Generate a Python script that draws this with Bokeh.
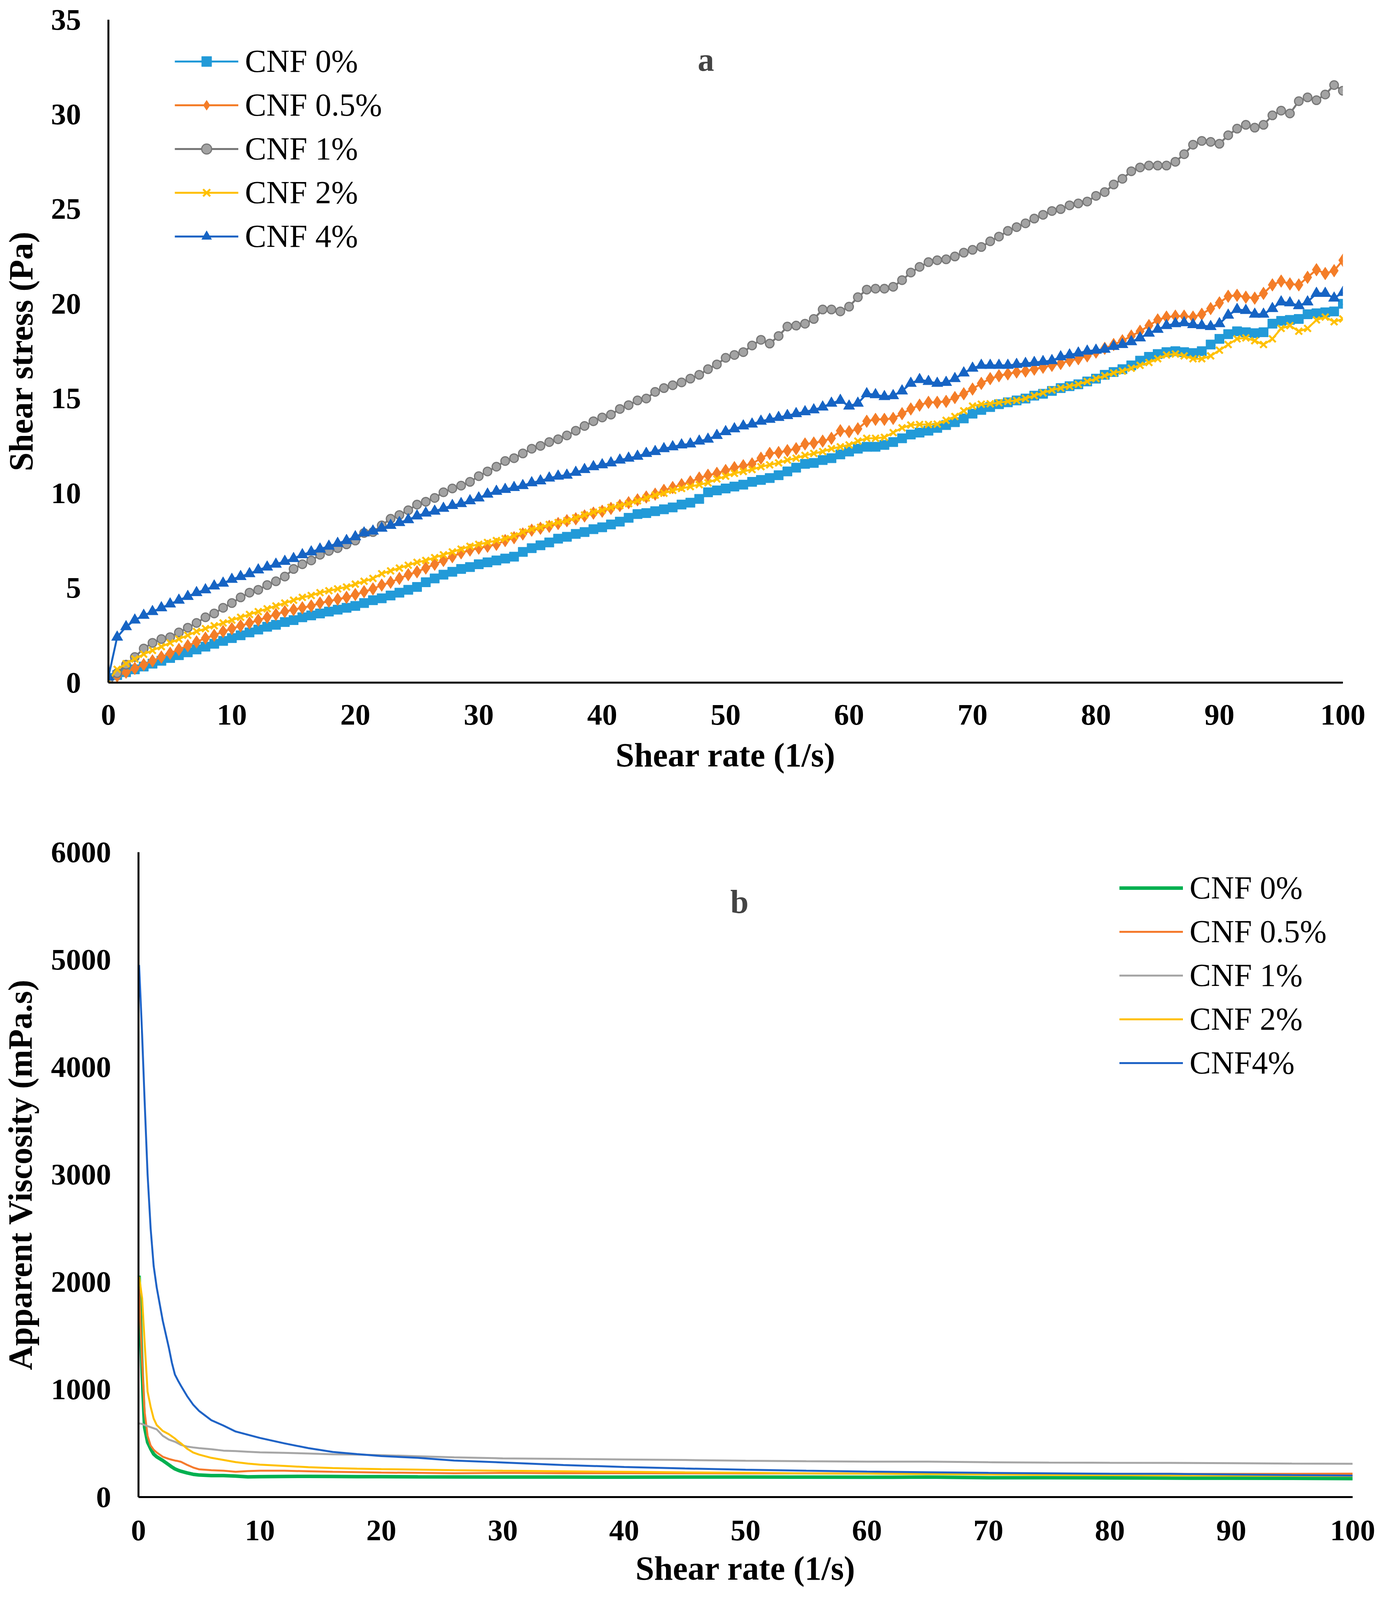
from bokeh.plotting import figure
from bokeh.models import Range1d, SingleIntervalTicker, Legend, LegendItem, Label
from bokeh.layouts import column
from bokeh.embed import file_html
from bokeh.resources import INLINE

FONT = "Liberation Serif"

# ---------------- (a) shear stress vs shear rate ----------------
shear_rate = [
    0, 0.71, 1.43, 2.14, 2.86, 3.57, 4.29,
    5, 5.71, 6.43, 7.14, 7.86, 8.57, 9.29,
    10, 10.71, 11.43, 12.14, 12.86, 13.57, 14.29,
    15, 15.71, 16.43, 17.14, 17.86, 18.57, 19.29,
    20, 20.71, 21.43, 22.14, 22.86, 23.57, 24.29,
    25, 25.71, 26.43, 27.14, 27.86, 28.57, 29.29,
    30, 30.71, 31.43, 32.14, 32.86, 33.57, 34.29,
    35, 35.71, 36.43, 37.14, 37.86, 38.57, 39.29,
    40, 40.71, 41.43, 42.14, 42.86, 43.57, 44.29,
    45, 45.71, 46.43, 47.14, 47.86, 48.57, 49.29,
    50, 50.71, 51.43, 52.14, 52.86, 53.57, 54.29,
    55, 55.71, 56.43, 57.14, 57.86, 58.57, 59.29,
    60, 60.71, 61.43, 62.14, 62.86, 63.57, 64.29,
    65, 65.71, 66.43, 67.14, 67.86, 68.57, 69.29,
    70, 70.71, 71.43, 72.14, 72.86, 73.57, 74.29,
    75, 75.71, 76.43, 77.14, 77.86, 78.57, 79.29,
    80, 80.71, 81.43, 82.14, 82.86, 83.57, 84.29,
    85, 85.71, 86.43, 87.14, 87.86, 88.57, 89.29,
    90, 90.71, 91.43, 92.14, 92.86, 93.57, 94.29,
    95, 95.71, 96.43, 97.14, 97.86, 98.57, 99.29,
    100,
]

stress_cnf0 = [
    0.25, 0.4, 0.55, 0.7, 0.85, 1.0, 1.15,
    1.3, 1.45, 1.6, 1.75, 1.9, 2.05, 2.2,
    2.35, 2.5, 2.65, 2.8, 2.95, 3.05, 3.2,
    3.3, 3.45, 3.55, 3.65, 3.75, 3.85, 3.95,
    4.05, 4.2, 4.35, 4.45, 4.6, 4.75, 4.9,
    5.05, 5.3, 5.5, 5.7, 5.85, 6.0, 6.1,
    6.25, 6.35, 6.45, 6.55, 6.65, 6.9, 7.1,
    7.25, 7.4, 7.6, 7.7, 7.85, 7.95, 8.1,
    8.2, 8.35, 8.5, 8.7, 8.9, 8.95, 9.05,
    9.15, 9.25, 9.4, 9.5, 9.7, 10.05, 10.15,
    10.25, 10.35, 10.45, 10.6, 10.7, 10.8, 10.95,
    11.15, 11.35, 11.55, 11.6, 11.75, 11.85, 12.05,
    12.2, 12.35, 12.45, 12.45, 12.55, 12.7, 12.9,
    13.1, 13.2, 13.3, 13.45, 13.6, 13.75, 13.95,
    14.2, 14.4, 14.55, 14.7, 14.8, 14.9, 15.0,
    15.15, 15.25, 15.4, 15.55, 15.65, 15.75, 15.9,
    16.05, 16.25, 16.4, 16.55, 16.75, 17.0, 17.2,
    17.35, 17.45, 17.5, 17.45, 17.4, 17.5, 17.85,
    18.15, 18.4, 18.55, 18.5, 18.45, 18.5, 18.95,
    19.1, 19.15, 19.2, 19.45, 19.5, 19.55, 19.6,
    20.0,
]

stress_cnf05 = [
    0.15, 0.35, 0.55, 0.75, 0.95, 1.15, 1.35,
    1.55, 1.75, 1.95, 2.15, 2.35, 2.5, 2.7,
    2.85, 3.0, 3.15, 3.3, 3.45, 3.6, 3.75,
    3.85, 3.95, 4.05, 4.2, 4.3, 4.4, 4.5,
    4.65, 4.8, 4.95, 5.15, 5.3, 5.5, 5.7,
    5.85, 6.05, 6.25, 6.45, 6.65, 6.85, 7.0,
    7.1, 7.2, 7.3, 7.5, 7.65, 7.85, 8.05,
    8.15, 8.25, 8.4, 8.55, 8.65, 8.8, 8.95,
    9.05, 9.2, 9.35, 9.5, 9.65, 9.8, 9.95,
    10.15, 10.3, 10.45, 10.6, 10.8, 10.95, 11.05,
    11.2, 11.35, 11.45, 11.55, 11.85, 12.1, 12.15,
    12.25, 12.35, 12.6, 12.65, 12.75, 12.9, 13.3,
    13.25, 13.4, 13.8, 13.9, 13.9, 13.95, 14.2,
    14.45, 14.65, 14.8, 14.8, 14.85, 15.05, 15.25,
    15.5, 15.8, 16.05, 16.2, 16.3, 16.4, 16.45,
    16.55, 16.65, 16.75, 16.85, 17.0, 17.1, 17.25,
    17.45, 17.65, 17.85, 18.05, 18.3, 18.55, 18.85,
    19.15, 19.3, 19.35, 19.35, 19.3, 19.45, 19.75,
    20.05, 20.4, 20.45, 20.35, 20.3, 20.55, 21.0,
    21.2, 21.05, 21.0, 21.4, 21.8, 21.6, 21.75,
    22.3,
]

stress_cnf1 = [
    0.05, 0.5, 0.95, 1.35, 1.8, 2.1, 2.3,
    2.4, 2.65, 2.9, 3.15, 3.45, 3.65, 3.95,
    4.2, 4.5, 4.75, 4.9, 5.15, 5.35, 5.6,
    6.0, 6.25, 6.45, 6.75, 6.95, 7.1, 7.3,
    7.5, 7.9, 7.95, 8.3, 8.65, 8.85, 9.1,
    9.4, 9.55, 9.75, 10.05, 10.25, 10.4, 10.6,
    10.9, 11.15, 11.4, 11.7, 11.85, 12.1, 12.35,
    12.5, 12.7, 12.85, 13.05, 13.3, 13.55, 13.8,
    14.0, 14.15, 14.45, 14.65, 14.9, 15.0, 15.35,
    15.55, 15.7, 15.85, 16.05, 16.25, 16.55, 16.8,
    17.15, 17.3, 17.45, 17.8, 18.1, 17.9, 18.3,
    18.8, 18.85, 18.95, 19.2, 19.7, 19.7, 19.6,
    19.85, 20.35, 20.75, 20.8, 20.8, 20.9, 21.25,
    21.65, 21.95, 22.2, 22.3, 22.35, 22.5, 22.7,
    22.85, 23.0, 23.3, 23.55, 23.85, 24.05, 24.25,
    24.5, 24.7, 24.9, 25.0, 25.2, 25.3, 25.4,
    25.7, 25.9, 26.3, 26.6, 27.0, 27.2, 27.3,
    27.3, 27.3, 27.5, 27.9, 28.4, 28.6, 28.55,
    28.45, 28.9, 29.25, 29.45, 29.3, 29.45, 29.95,
    30.2, 30.05, 30.7, 30.9, 30.75, 31.05, 31.55,
    31.25,
]

stress_cnf2 = [
    0.1, 0.7, 1.0, 1.25, 1.5, 1.7, 1.9,
    2.1, 2.3, 2.5, 2.7, 2.85, 3.0, 3.15,
    3.3, 3.45, 3.6, 3.75, 3.9, 4.05, 4.2,
    4.35, 4.5, 4.6, 4.75, 4.85, 4.95, 5.05,
    5.2, 5.35, 5.5, 5.75, 5.9, 6.05, 6.2,
    6.35, 6.45, 6.6, 6.75, 6.9, 7.05, 7.2,
    7.3, 7.4, 7.5, 7.6, 7.75, 7.95, 8.1,
    8.2, 8.35, 8.45, 8.55, 8.7, 8.85, 9.0,
    9.1, 9.25, 9.35, 9.45, 9.6, 9.75, 9.9,
    10.0, 10.15, 10.25, 10.35, 10.45, 10.55, 10.75,
    10.9, 11.05, 11.15, 11.25, 11.4, 11.5, 11.6,
    11.75, 11.85, 12.0, 12.1, 12.2, 12.35, 12.45,
    12.55, 12.75, 12.9, 12.9, 12.95, 13.2, 13.45,
    13.6, 13.63, 13.63, 13.65, 13.85, 14.05, 14.35,
    14.6, 14.7, 14.72, 14.78, 14.85, 14.9, 15.0,
    15.15, 15.3, 15.45, 15.55, 15.65, 15.75, 15.9,
    16.05, 16.2, 16.35, 16.45, 16.6, 16.75, 16.9,
    17.1, 17.3, 17.35, 17.25, 17.1, 17.1, 17.25,
    17.55, 17.85, 18.15, 18.2, 18.05, 17.85, 18.15,
    18.7, 18.85, 18.55, 18.7, 19.15, 19.3, 19.05,
    19.2,
]

stress_cnf4 = [
    0.3, 2.4, 2.95, 3.3, 3.55, 3.75, 3.95,
    4.15, 4.35, 4.55, 4.75, 4.9, 5.1, 5.25,
    5.45, 5.6, 5.75, 5.95, 6.1, 6.25, 6.4,
    6.55, 6.75, 6.9, 7.05, 7.2, 7.35, 7.5,
    7.7, 7.9, 8.0, 8.15, 8.3, 8.45, 8.6,
    8.8, 8.95, 9.05, 9.2, 9.35, 9.45, 9.6,
    9.75, 9.95, 10.1, 10.2, 10.3, 10.4, 10.55,
    10.65, 10.8, 10.9, 10.95, 11.1, 11.25, 11.4,
    11.5, 11.6, 11.75, 11.85, 11.95, 12.1, 12.2,
    12.35, 12.45, 12.55, 12.6, 12.75, 12.85, 13.05,
    13.25, 13.4, 13.55, 13.65, 13.8, 13.9, 14.0,
    14.1, 14.2, 14.3, 14.4, 14.55, 14.75, 14.9,
    14.6, 14.75, 15.25, 15.2, 15.1, 15.15, 15.4,
    15.8, 16.0, 15.9, 15.8, 15.85, 16.05, 16.35,
    16.6, 16.75, 16.75, 16.75, 16.75, 16.8, 16.85,
    16.9, 16.95, 17.0, 17.2, 17.3, 17.4, 17.5,
    17.55, 17.6, 17.75, 17.85, 18.0, 18.2, 18.45,
    18.65, 18.85, 18.95, 19.0, 18.9, 18.85, 18.8,
    18.95, 19.4, 19.7, 19.65, 19.45, 19.45, 19.75,
    20.1, 20.05, 19.9, 20.1, 20.55, 20.55, 20.3,
    20.6,
]

labels_a = ["CNF 0%", "CNF 0.5%", "CNF 1%", "CNF 2%", "CNF 4%"]

# ---------------- (b) apparent viscosity vs shear rate ----------------
visc_rate = [0.05, 0.3, 0.5, 0.75, 1, 1.25, 1.5, 2, 2.5, 2.75, 3, 3.25, 3.5, 4, 4.5, 5, 6, 7,
             8, 9, 10, 12, 14, 16, 18, 20, 23, 26, 30, 35, 40, 45, 50, 55, 60, 65, 70, 75,
             80, 85, 90, 95, 100]

visc_cnf0 = [2060, 1150, 650, 510, 450, 400, 375, 340, 300, 280, 262, 250, 240, 225, 212, 205,
             200, 200, 195, 188, 190, 192, 193, 192, 190, 190, 188, 187, 186, 186, 185, 186,
             186, 185, 184, 186, 180, 180, 178, 176, 175, 174, 172]

visc_cnf05 = [1950, 1250, 800, 570, 480, 440, 415, 375, 355, 347, 340, 335, 328, 300, 275, 258,
              250, 245, 235, 242, 245, 245, 240, 235, 232, 228, 225, 222, 225, 222, 222, 221,
              220, 220, 218, 216, 215, 215, 215, 216, 215, 216, 218]

visc_cnf1 = [685, 680, 670, 660, 650, 640, 630, 570, 535, 525, 515, 500, 485, 470, 462, 455,
             445, 432, 428, 422, 416, 412, 405, 398, 395, 390, 380, 370, 360, 355, 350, 345,
             338, 333, 330, 330, 324, 321, 319, 318, 315, 312, 310]

visc_cnf2 = [2050, 1850, 1450, 980, 840, 730, 670, 615, 585, 565, 545, 520, 500, 450, 415, 395,
             365, 345, 325, 312, 302, 290, 278, 270, 264, 260, 255, 250, 245, 240, 235, 230,
             226, 221, 218, 214, 210, 206, 204, 202, 200, 198, 196]

visc_cnf4 = [4950, 4300, 3700, 3000, 2500, 2150, 1950, 1640, 1390, 1250, 1140, 1085, 1035, 940,
             860, 800, 715, 665, 610, 580, 550, 500, 455, 420, 400, 382, 365, 340, 322, 298,
             280, 266, 254, 245, 237, 231, 225, 221, 217, 216, 210, 204, 200]

labels_b = ["CNF 0%", "CNF 0.5%", "CNF 1%", "CNF 2%", "CNF4%"]


def style_axes(p, x_lab_standoff, x_title_standoff, y_title_standoff):
    for ax in (p.xaxis[0], p.yaxis[0]):
        ax.axis_line_width = 5
        ax.axis_line_color = "black"
        ax.major_tick_line_color = None
        ax.minor_tick_line_color = None
        ax.major_tick_in = 0
        ax.major_tick_out = 0
        ax.minor_tick_in = 0
        ax.minor_tick_out = 0
        ax.major_label_text_font = FONT
        ax.major_label_text_font_size = "77px"
        ax.major_label_text_font_style = "bold"
        ax.major_label_text_color = "black"
        ax.axis_label_text_font = FONT
        ax.axis_label_text_font_size = "86px"
        ax.axis_label_text_font_style = "bold"
        ax.axis_label_text_color = "black"
    p.xaxis[0].major_label_standoff = x_lab_standoff
    p.xaxis[0].axis_label_standoff = x_title_standoff
    p.yaxis[0].major_label_standoff = 70
    p.yaxis[0].axis_label_standoff = y_title_standoff
    p.xgrid.visible = False
    p.ygrid.visible = False
    p.outline_line_color = None
    p.background_fill_color = "white"
    p.border_fill_color = "white"
    p.frame_align = False


def style_legend(lg):
    lg.label_text_font = FONT
    lg.label_text_font_size = "82px"
    lg.label_text_color = "black"
    lg.glyph_width = 163
    lg.glyph_height = 64
    lg.label_standoff = 17
    lg.spacing = 18
    lg.padding = 0
    lg.margin = 0
    lg.border_line_color = None
    lg.background_fill_alpha = 0


# ---------- figure a ----------
p1 = figure(width=3537, height=2040, x_range=Range1d(0, 100), y_range=Range1d(0, 35),
            output_backend="svg", toolbar_location=None,
            min_border_left=277, min_border_right=100, min_border_top=50, min_border_bottom=293,
            x_axis_label="Shear rate (1/s)", y_axis_label="Shear stress (Pa)")
p1.xaxis.ticker = SingleIntervalTicker(interval=10)
p1.yaxis.ticker = SingleIntervalTicker(interval=5)
style_axes(p1, 57, 27, 26)

series_a = [
    (stress_cnf0, "square", "#229AD8", "#229AD8", 24, 1),
    (stress_cnf05, "diamond", "#F47D28", "#F47D28", 33, 1),
    (stress_cnf1, "circle", "#A3A3A3", "#777777", 22, 3),
    (stress_cnf2, "x", "#FFC000", "#FFC000", 24, 5),
    (stress_cnf4, "triangle", "#1664C4", "#1664C4", 29, 1),
]
items_a = []
for (ys, marker, fill, line, size, lw), lab in zip(series_a, labels_a):
    r_line = p1.line(shear_rate, ys, line_color=line, line_width=5)
    r_mark = p1.scatter(shear_rate, ys, marker=marker, size=size, fill_color=fill,
                        line_color=line, line_width=lw)
    items_a.append(LegendItem(label=lab, renderers=[r_line, r_mark]))

leg_a = Legend(items=items_a, location=(170, 1095))
style_legend(leg_a)
p1.add_layout(leg_a)

p1.add_layout(Label(x=48.4, y=32.9, text="a", text_font=FONT, text_font_size="84px",
                    text_font_style="bold", text_align="center", text_baseline="middle"))

# ---------- figure b ----------
p2 = figure(width=3537, height=2048, x_range=Range1d(0, 100), y_range=Range1d(0, 6000),
            output_backend="svg", toolbar_location=None,
            min_border_left=352, min_border_right=75, min_border_top=141, min_border_bottom=256,
            x_axis_label="Shear rate (1/s)", y_axis_label="Apparent Viscosity (mPa.s)")
p2.xaxis.ticker = SingleIntervalTicker(interval=10)
p2.yaxis.ticker = SingleIntervalTicker(interval=1000)
style_axes(p2, 60, 21, 28)

series_b = [
    (visc_cnf0, "#00B050", 9),
    (visc_cnf05, "#F57A2C", 5),
    (visc_cnf1, "#A6A6A6", 5),
    (visc_cnf2, "#FFC000", 5),
    (visc_cnf4, "#1F63C6", 5),
]
items_b = []
for (ys, color, lw), lab in zip(series_b, labels_b):
    r = p2.line(visc_rate, ys, line_color=color, line_width=lw)
    items_b.append(LegendItem(label=lab, renderers=[r]))

leg_b = Legend(items=items_b, location=(2511, 1064))
style_legend(leg_b)
p2.add_layout(leg_b)

p2.add_layout(Label(x=49.5, y=5537, text="b", text_font=FONT, text_font_size="84px",
                    text_font_style="bold", text_align="center", text_baseline="middle"))

layout = column(p1, p2)
open("out.html", "w").write(file_html(layout, INLINE))
